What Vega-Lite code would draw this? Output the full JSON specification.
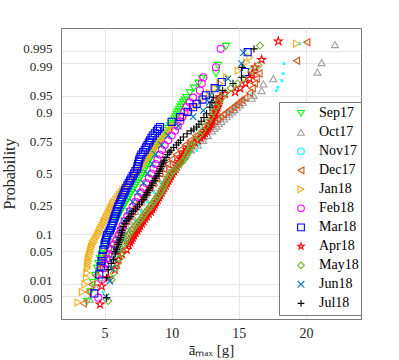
{
  "$schema": "https://vega.github.io/schema/vega-lite/v6.json",
  "width": 300,
  "height": 291,
  "autosize": {"type": "none"},
  "padding": {"left": 61, "top": 28, "right": 38, "bottom": 41},
  "background": "white",
  "config": {
    "view": {"stroke": "#7a7a7a", "strokeWidth": 1},
    "font": "Liberation Serif"
  },
  "data": {"values": [
    {"m":"Sep17","x":3.7,"z":-2.7},{"m":"Sep17","x":3.95,"z":-2.5},{"m":"Sep17","x":4.15,"z":-2.3},{"m":"Sep17","x":4.3,"z":-2.15},{"m":"Sep17","x":4.45,"z":-2.0},{"m":"Sep17","x":4.55,"z":-1.9},{"m":"Sep17","x":4.65,"z":-1.8},{"m":"Sep17","x":4.78,"z":-1.7},{"m":"Sep17","x":4.9,"z":-1.6},{"m":"Sep17","x":5.05,"z":-1.5},{"m":"Sep17","x":5.2,"z":-1.4},{"m":"Sep17","x":5.35,"z":-1.3},{"m":"Sep17","x":5.5,"z":-1.2},{"m":"Sep17","x":5.68,"z":-1.1},{"m":"Sep17","x":5.85,"z":-1.0},{"m":"Sep17","x":6.02,"z":-0.9},{"m":"Sep17","x":6.2,"z":-0.8},{"m":"Sep17","x":6.4,"z":-0.7},{"m":"Sep17","x":6.6,"z":-0.6},{"m":"Sep17","x":6.8,"z":-0.5},{"m":"Sep17","x":7.0,"z":-0.4},{"m":"Sep17","x":7.2,"z":-0.3},{"m":"Sep17","x":7.4,"z":-0.2},{"m":"Sep17","x":7.62,"z":-0.1},{"m":"Sep17","x":7.85,"z":0.0},{"m":"Sep17","x":8.02,"z":0.1},{"m":"Sep17","x":8.2,"z":0.2},{"m":"Sep17","x":8.35,"z":0.3},{"m":"Sep17","x":8.5,"z":0.4},{"m":"Sep17","x":8.7,"z":0.5},{"m":"Sep17","x":8.9,"z":0.6},{"m":"Sep17","x":9.13,"z":0.7},{"m":"Sep17","x":9.35,"z":0.8},{"m":"Sep17","x":9.58,"z":0.9},{"m":"Sep17","x":9.9,"z":1.0},{"m":"Sep17","x":10.1,"z":1.1},{"m":"Sep17","x":10.3,"z":1.2},{"m":"Sep17","x":10.45,"z":1.3},{"m":"Sep17","x":10.65,"z":1.4},{"m":"Sep17","x":10.85,"z":1.5},{"m":"Sep17","x":11.1,"z":1.6},{"m":"Sep17","x":11.35,"z":1.7},{"m":"Sep17","x":11.65,"z":1.8},{"m":"Sep17","x":12.0,"z":1.9},{"m":"Sep17","x":12.25,"z":2.0},{"m":"Sep17","x":13.3,"z":2.11},{"m":"Sep17","x":13.45,"z":2.28},{"m":"Sep17","x":14.05,"z":2.68},
    {"m":"Sep17","x":5.94,"z":-0.95},{"m":"Sep17","x":6.11,"z":-0.85},{"m":"Sep17","x":6.3,"z":-0.75},{"m":"Sep17","x":6.5,"z":-0.65},{"m":"Sep17","x":6.7,"z":-0.55},{"m":"Sep17","x":6.9,"z":-0.45},{"m":"Sep17","x":7.1,"z":-0.35},{"m":"Sep17","x":7.3,"z":-0.25},{"m":"Sep17","x":7.51,"z":-0.15},{"m":"Sep17","x":7.74,"z":-0.05},{"m":"Sep17","x":7.94,"z":0.05},{"m":"Sep17","x":8.11,"z":0.15},{"m":"Sep17","x":8.28,"z":0.25},{"m":"Sep17","x":8.43,"z":0.35},{"m":"Sep17","x":8.6,"z":0.45},{"m":"Sep17","x":8.8,"z":0.55},{"m":"Sep17","x":9.02,"z":0.65},{"m":"Sep17","x":9.24,"z":0.75},{"m":"Sep17","x":9.47,"z":0.85},{"m":"Sep17","x":9.74,"z":0.95},{"m":"Sep17","x":10.0,"z":1.05},{"m":"Sep17","x":10.2,"z":1.15},{"m":"Sep17","x":10.38,"z":1.25},{"m":"Sep17","x":10.55,"z":1.35},{"m":"Sep17","x":10.75,"z":1.45},{"m":"Sep17","x":10.98,"z":1.55},

    {"m":"Oct17","x":3.9,"z":-2.65},{"m":"Oct17","x":4.35,"z":-2.4},{"m":"Oct17","x":4.65,"z":-2.2},{"m":"Oct17","x":5.0,"z":-2.0},{"m":"Oct17","x":5.15,"z":-1.9},{"m":"Oct17","x":5.3,"z":-1.8},{"m":"Oct17","x":5.45,"z":-1.7},{"m":"Oct17","x":5.6,"z":-1.6},{"m":"Oct17","x":5.8,"z":-1.5},{"m":"Oct17","x":6.0,"z":-1.4},{"m":"Oct17","x":6.2,"z":-1.3},{"m":"Oct17","x":6.4,"z":-1.2},{"m":"Oct17","x":6.62,"z":-1.1},{"m":"Oct17","x":6.85,"z":-1.0},{"m":"Oct17","x":7.08,"z":-0.9},{"m":"Oct17","x":7.3,"z":-0.8},{"m":"Oct17","x":7.52,"z":-0.7},{"m":"Oct17","x":7.75,"z":-0.6},{"m":"Oct17","x":7.98,"z":-0.5},{"m":"Oct17","x":8.2,"z":-0.4},{"m":"Oct17","x":8.45,"z":-0.3},{"m":"Oct17","x":8.7,"z":-0.2},{"m":"Oct17","x":8.95,"z":-0.1},{"m":"Oct17","x":9.2,"z":0.0},{"m":"Oct17","x":9.55,"z":0.1},{"m":"Oct17","x":9.95,"z":0.2},{"m":"Oct17","x":10.4,"z":0.3},{"m":"Oct17","x":10.9,"z":0.4},{"m":"Oct17","x":11.45,"z":0.5},{"m":"Oct17","x":11.95,"z":0.6},{"m":"Oct17","x":12.35,"z":0.7},{"m":"Oct17","x":12.7,"z":0.8},{"m":"Oct17","x":13.0,"z":0.9},{"m":"Oct17","x":13.35,"z":1.0},{"m":"Oct17","x":13.7,"z":1.1},{"m":"Oct17","x":14.1,"z":1.2},{"m":"Oct17","x":14.5,"z":1.3},{"m":"Oct17","x":14.85,"z":1.4},{"m":"Oct17","x":15.3,"z":1.5},{"m":"Oct17","x":15.96,"z":1.59},{"m":"Oct17","x":16.1,"z":1.65},{"m":"Oct17","x":16.7,"z":1.75},{"m":"Oct17","x":16.83,"z":1.89},{"m":"Oct17","x":17.57,"z":2.0},{"m":"Oct17","x":20.85,"z":2.14},{"m":"Oct17","x":21.17,"z":2.34},{"m":"Oct17","x":22.16,"z":2.72},
    {"m":"Oct17","x":13.18,"z":0.95},{"m":"Oct17","x":13.52,"z":1.05},{"m":"Oct17","x":13.9,"z":1.15},{"m":"Oct17","x":14.3,"z":1.25},{"m":"Oct17","x":14.68,"z":1.35},{"m":"Oct17","x":15.08,"z":1.45},

    {"m":"Nov17","x":4.9,"z":-2.5},{"m":"Nov17","x":5.3,"z":-2.2},{"m":"Nov17","x":5.6,"z":-2.0},{"m":"Nov17","x":5.9,"z":-1.8},{"m":"Nov17","x":6.2,"z":-1.6},{"m":"Nov17","x":6.55,"z":-1.4},{"m":"Nov17","x":6.9,"z":-1.2},{"m":"Nov17","x":7.3,"z":-1.0},{"m":"Nov17","x":7.75,"z":-0.8},{"m":"Nov17","x":8.2,"z":-0.6},{"m":"Nov17","x":8.7,"z":-0.4},{"m":"Nov17","x":9.2,"z":-0.2},{"m":"Nov17","x":9.75,"z":0.0},{"m":"Nov17","x":10.1,"z":0.1},{"m":"Nov17","x":10.5,"z":0.2},{"m":"Nov17","x":10.85,"z":0.3},{"m":"Nov17","x":11.2,"z":0.4},{"m":"Nov17","x":11.4,"z":0.46},{"m":"Nov17","x":11.86,"z":0.49},{"m":"Nov17","x":12.0,"z":0.6},{"m":"Nov17","x":12.15,"z":0.7},{"m":"Nov17","x":12.3,"z":0.8},{"m":"Nov17","x":12.55,"z":0.9},{"m":"Nov17","x":12.8,"z":1.0},{"m":"Nov17","x":13.2,"z":1.1},{"m":"Nov17","x":13.6,"z":1.2},{"m":"Nov17","x":14.2,"z":1.3},{"m":"Nov17","x":14.6,"z":1.37},{"m":"Nov17","x":15.0,"z":1.45},{"m":"Nov17","x":15.5,"z":1.55},{"m":"Nov17","x":15.96,"z":1.68},{"m":"Nov17","x":17.8,"z":1.75},{"m":"Nov17","x":17.9,"z":1.82},{"m":"Nov17","x":18.2,"z":1.96},{"m":"Nov17","x":18.3,"z":2.11},{"m":"Nov17","x":18.37,"z":2.32},{"m":"Nov17","x":19.55,"z":2.74},

    {"m":"Dec17","x":3.42,"z":-2.74},{"m":"Dec17","x":3.8,"z":-2.5},{"m":"Dec17","x":4.05,"z":-2.34},{"m":"Dec17","x":4.35,"z":-2.15},{"m":"Dec17","x":4.6,"z":-2.0},{"m":"Dec17","x":4.78,"z":-1.9},{"m":"Dec17","x":4.95,"z":-1.8},{"m":"Dec17","x":5.12,"z":-1.7},{"m":"Dec17","x":5.3,"z":-1.6},{"m":"Dec17","x":5.52,"z":-1.5},{"m":"Dec17","x":5.75,"z":-1.4},{"m":"Dec17","x":5.97,"z":-1.3},{"m":"Dec17","x":6.2,"z":-1.2},{"m":"Dec17","x":6.42,"z":-1.1},{"m":"Dec17","x":6.65,"z":-1.0},{"m":"Dec17","x":6.88,"z":-0.9},{"m":"Dec17","x":7.1,"z":-0.8},{"m":"Dec17","x":7.35,"z":-0.7},{"m":"Dec17","x":7.6,"z":-0.6},{"m":"Dec17","x":7.85,"z":-0.5},{"m":"Dec17","x":8.1,"z":-0.4},{"m":"Dec17","x":8.35,"z":-0.3},{"m":"Dec17","x":8.6,"z":-0.2},{"m":"Dec17","x":8.85,"z":-0.1},{"m":"Dec17","x":9.1,"z":0.0},{"m":"Dec17","x":9.4,"z":0.1},{"m":"Dec17","x":9.7,"z":0.2},{"m":"Dec17","x":10.0,"z":0.3},{"m":"Dec17","x":10.35,"z":0.4},{"m":"Dec17","x":10.65,"z":0.5},{"m":"Dec17","x":11.0,"z":0.6},{"m":"Dec17","x":11.4,"z":0.7},{"m":"Dec17","x":11.8,"z":0.8},{"m":"Dec17","x":12.3,"z":0.9},{"m":"Dec17","x":12.7,"z":1.0},{"m":"Dec17","x":13.2,"z":1.1},{"m":"Dec17","x":13.6,"z":1.2},{"m":"Dec17","x":14.1,"z":1.3},{"m":"Dec17","x":14.57,"z":1.4},{"m":"Dec17","x":15.0,"z":1.5},{"m":"Dec17","x":15.45,"z":1.6},{"m":"Dec17","x":15.8,"z":1.7},{"m":"Dec17","x":16.0,"z":1.8},{"m":"Dec17","x":16.15,"z":1.9},{"m":"Dec17","x":16.3,"z":2.0},{"m":"Dec17","x":16.5,"z":2.11},{"m":"Dec17","x":19.3,"z":2.38},{"m":"Dec17","x":20.06,"z":2.77},
    {"m":"Dec17","x":12.5,"z":0.95},{"m":"Dec17","x":12.95,"z":1.05},{"m":"Dec17","x":13.4,"z":1.15},{"m":"Dec17","x":13.85,"z":1.25},{"m":"Dec17","x":14.33,"z":1.35},{"m":"Dec17","x":14.8,"z":1.45},{"m":"Dec17","x":15.22,"z":1.55},

    {"m":"Jan18","x":3.03,"z":-2.72},{"m":"Jan18","x":3.35,"z":-2.5},{"m":"Jan18","x":3.55,"z":-2.34},{"m":"Jan18","x":3.65,"z":-2.2},{"m":"Jan18","x":3.7,"z":-2.1},{"m":"Jan18","x":3.72,"z":-2.0},{"m":"Jan18","x":3.76,"z":-1.9},{"m":"Jan18","x":3.8,"z":-1.8},{"m":"Jan18","x":3.9,"z":-1.7},{"m":"Jan18","x":3.98,"z":-1.6},{"m":"Jan18","x":4.1,"z":-1.5},{"m":"Jan18","x":4.3,"z":-1.4},{"m":"Jan18","x":4.5,"z":-1.3},{"m":"Jan18","x":4.65,"z":-1.2},{"m":"Jan18","x":4.82,"z":-1.1},{"m":"Jan18","x":5.0,"z":-1.0},{"m":"Jan18","x":5.18,"z":-0.9},{"m":"Jan18","x":5.36,"z":-0.8},{"m":"Jan18","x":5.52,"z":-0.7},{"m":"Jan18","x":5.72,"z":-0.6},{"m":"Jan18","x":6.0,"z":-0.5},{"m":"Jan18","x":6.25,"z":-0.4},{"m":"Jan18","x":6.5,"z":-0.3},{"m":"Jan18","x":6.8,"z":-0.2},{"m":"Jan18","x":7.1,"z":-0.1},{"m":"Jan18","x":7.4,"z":0.0},{"m":"Jan18","x":7.65,"z":0.1},{"m":"Jan18","x":7.9,"z":0.2},{"m":"Jan18","x":8.15,"z":0.3},{"m":"Jan18","x":8.4,"z":0.4},{"m":"Jan18","x":8.65,"z":0.5},{"m":"Jan18","x":8.9,"z":0.6},{"m":"Jan18","x":9.2,"z":0.7},{"m":"Jan18","x":9.5,"z":0.8},{"m":"Jan18","x":9.8,"z":0.9},{"m":"Jan18","x":10.15,"z":1.0},{"m":"Jan18","x":10.5,"z":1.1},{"m":"Jan18","x":10.9,"z":1.2},{"m":"Jan18","x":11.3,"z":1.3},{"m":"Jan18","x":11.65,"z":1.4},{"m":"Jan18","x":12.0,"z":1.5},{"m":"Jan18","x":12.4,"z":1.6},{"m":"Jan18","x":12.8,"z":1.7},{"m":"Jan18","x":13.25,"z":1.8},{"m":"Jan18","x":13.6,"z":1.9},{"m":"Jan18","x":14.1,"z":2.03},{"m":"Jan18","x":14.96,"z":2.17},{"m":"Jan18","x":15.6,"z":2.35},{"m":"Jan18","x":15.83,"z":2.45},{"m":"Jan18","x":19.3,"z":2.74},
    {"m":"Jan18","x":3.74,"z":-1.95},{"m":"Jan18","x":3.78,"z":-1.85},{"m":"Jan18","x":3.85,"z":-1.75},{"m":"Jan18","x":3.94,"z":-1.65},{"m":"Jan18","x":4.04,"z":-1.55},{"m":"Jan18","x":4.2,"z":-1.45},{"m":"Jan18","x":4.4,"z":-1.35},{"m":"Jan18","x":4.58,"z":-1.25},{"m":"Jan18","x":4.74,"z":-1.15},{"m":"Jan18","x":4.91,"z":-1.05},{"m":"Jan18","x":5.09,"z":-0.95},{"m":"Jan18","x":5.27,"z":-0.85},{"m":"Jan18","x":5.44,"z":-0.75},{"m":"Jan18","x":5.62,"z":-0.65},{"m":"Jan18","x":5.86,"z":-0.55},{"m":"Jan18","x":6.12,"z":-0.45},{"m":"Jan18","x":6.38,"z":-0.35},{"m":"Jan18","x":6.65,"z":-0.25},{"m":"Jan18","x":6.95,"z":-0.15},{"m":"Jan18","x":7.25,"z":-0.05},{"m":"Jan18","x":7.52,"z":0.05},{"m":"Jan18","x":7.78,"z":0.15},{"m":"Jan18","x":8.02,"z":0.25},{"m":"Jan18","x":8.28,"z":0.35},{"m":"Jan18","x":8.52,"z":0.45},{"m":"Jan18","x":8.78,"z":0.55},{"m":"Jan18","x":9.05,"z":0.65},{"m":"Jan18","x":9.35,"z":0.75},{"m":"Jan18","x":9.65,"z":0.85},{"m":"Jan18","x":9.98,"z":0.95},

    {"m":"Feb18","x":4.54,"z":-2.62},{"m":"Feb18","x":4.79,"z":-2.24},{"m":"Feb18","x":4.95,"z":-2.0},{"m":"Feb18","x":5.05,"z":-1.9},{"m":"Feb18","x":5.15,"z":-1.8},{"m":"Feb18","x":5.3,"z":-1.7},{"m":"Feb18","x":5.5,"z":-1.6},{"m":"Feb18","x":5.7,"z":-1.5},{"m":"Feb18","x":5.9,"z":-1.4},{"m":"Feb18","x":6.05,"z":-1.3},{"m":"Feb18","x":6.2,"z":-1.2},{"m":"Feb18","x":6.35,"z":-1.1},{"m":"Feb18","x":6.5,"z":-1.0},{"m":"Feb18","x":6.7,"z":-0.9},{"m":"Feb18","x":6.9,"z":-0.8},{"m":"Feb18","x":7.1,"z":-0.7},{"m":"Feb18","x":7.3,"z":-0.6},{"m":"Feb18","x":7.5,"z":-0.5},{"m":"Feb18","x":7.7,"z":-0.4},{"m":"Feb18","x":7.9,"z":-0.3},{"m":"Feb18","x":8.1,"z":-0.2},{"m":"Feb18","x":8.3,"z":-0.1},{"m":"Feb18","x":8.5,"z":0.0},{"m":"Feb18","x":8.65,"z":0.1},{"m":"Feb18","x":8.8,"z":0.2},{"m":"Feb18","x":8.95,"z":0.3},{"m":"Feb18","x":9.1,"z":0.4},{"m":"Feb18","x":9.28,"z":0.5},{"m":"Feb18","x":9.48,"z":0.6},{"m":"Feb18","x":9.75,"z":0.7},{"m":"Feb18","x":10.0,"z":0.8},{"m":"Feb18","x":10.25,"z":0.9},{"m":"Feb18","x":10.45,"z":1.0},{"m":"Feb18","x":10.65,"z":1.1},{"m":"Feb18","x":10.8,"z":1.2},{"m":"Feb18","x":10.95,"z":1.3},{"m":"Feb18","x":11.1,"z":1.4},{"m":"Feb18","x":11.35,"z":1.5},{"m":"Feb18","x":11.6,"z":1.6},{"m":"Feb18","x":12.1,"z":1.75},{"m":"Feb18","x":12.24,"z":1.9},{"m":"Feb18","x":12.36,"z":2.03},{"m":"Feb18","x":13.3,"z":2.24},{"m":"Feb18","x":13.65,"z":2.63},

    {"m":"Mar18","x":4.24,"z":-2.53},{"m":"Mar18","x":4.61,"z":-2.13},{"m":"Mar18","x":4.72,"z":-1.96},{"m":"Mar18","x":4.78,"z":-1.85},{"m":"Mar18","x":4.84,"z":-1.75},{"m":"Mar18","x":4.91,"z":-1.61},{"m":"Mar18","x":5.0,"z":-1.5},{"m":"Mar18","x":5.1,"z":-1.4},{"m":"Mar18","x":5.2,"z":-1.3},{"m":"Mar18","x":5.4,"z":-1.2},{"m":"Mar18","x":5.53,"z":-1.1},{"m":"Mar18","x":5.66,"z":-1.0},{"m":"Mar18","x":5.78,"z":-0.9},{"m":"Mar18","x":5.9,"z":-0.8},{"m":"Mar18","x":6.02,"z":-0.7},{"m":"Mar18","x":6.18,"z":-0.6},{"m":"Mar18","x":6.32,"z":-0.5},{"m":"Mar18","x":6.48,"z":-0.4},{"m":"Mar18","x":6.63,"z":-0.3},{"m":"Mar18","x":6.8,"z":-0.2},{"m":"Mar18","x":7.0,"z":-0.1},{"m":"Mar18","x":7.2,"z":0.0},{"m":"Mar18","x":7.42,"z":0.1},{"m":"Mar18","x":7.5,"z":0.2},{"m":"Mar18","x":7.6,"z":0.3},{"m":"Mar18","x":7.75,"z":0.4},{"m":"Mar18","x":8.0,"z":0.5},{"m":"Mar18","x":8.2,"z":0.6},{"m":"Mar18","x":8.39,"z":0.7},{"m":"Mar18","x":8.6,"z":0.8},{"m":"Mar18","x":8.9,"z":0.9},{"m":"Mar18","x":9.13,"z":0.98},{"m":"Mar18","x":10.0,"z":1.09},{"m":"Mar18","x":10.62,"z":1.19},{"m":"Mar18","x":11.2,"z":1.3},{"m":"Mar18","x":11.6,"z":1.4},{"m":"Mar18","x":11.86,"z":1.47},{"m":"Mar18","x":12.3,"z":1.56},{"m":"Mar18","x":12.55,"z":1.65},{"m":"Mar18","x":13.2,"z":1.8},{"m":"Mar18","x":13.73,"z":1.93},{"m":"Mar18","x":15.46,"z":2.14},{"m":"Mar18","x":15.66,"z":2.56},
    {"m":"Mar18","x":5.05,"z":-1.45},{"m":"Mar18","x":5.15,"z":-1.35},{"m":"Mar18","x":5.3,"z":-1.25},{"m":"Mar18","x":5.47,"z":-1.15},{"m":"Mar18","x":5.6,"z":-1.05},{"m":"Mar18","x":5.72,"z":-0.95},{"m":"Mar18","x":5.84,"z":-0.85},{"m":"Mar18","x":5.96,"z":-0.75},{"m":"Mar18","x":6.1,"z":-0.65},{"m":"Mar18","x":6.25,"z":-0.55},{"m":"Mar18","x":6.4,"z":-0.45},{"m":"Mar18","x":6.55,"z":-0.35},{"m":"Mar18","x":6.72,"z":-0.25},{"m":"Mar18","x":6.9,"z":-0.15},{"m":"Mar18","x":7.1,"z":-0.05},{"m":"Mar18","x":7.3,"z":0.05},{"m":"Mar18","x":7.46,"z":0.15},{"m":"Mar18","x":7.55,"z":0.25},{"m":"Mar18","x":7.68,"z":0.35},{"m":"Mar18","x":7.88,"z":0.45},{"m":"Mar18","x":8.1,"z":0.55},{"m":"Mar18","x":8.3,"z":0.65},{"m":"Mar18","x":8.5,"z":0.75},{"m":"Mar18","x":8.75,"z":0.85},{"m":"Mar18","x":9.0,"z":0.94},

    {"m":"Apr18","x":4.67,"z":-2.76},{"m":"Apr18","x":4.79,"z":-2.38},{"m":"Apr18","x":5.28,"z":-2.2},{"m":"Apr18","x":5.78,"z":-2.03},{"m":"Apr18","x":5.9,"z":-1.9},{"m":"Apr18","x":6.03,"z":-1.82},{"m":"Apr18","x":6.3,"z":-1.7},{"m":"Apr18","x":6.65,"z":-1.61},{"m":"Apr18","x":6.8,"z":-1.5},{"m":"Apr18","x":7.0,"z":-1.4},{"m":"Apr18","x":7.2,"z":-1.3},{"m":"Apr18","x":7.45,"z":-1.2},{"m":"Apr18","x":7.65,"z":-1.1},{"m":"Apr18","x":7.9,"z":-1.0},{"m":"Apr18","x":8.15,"z":-0.9},{"m":"Apr18","x":8.45,"z":-0.8},{"m":"Apr18","x":8.65,"z":-0.7},{"m":"Apr18","x":8.85,"z":-0.6},{"m":"Apr18","x":9.05,"z":-0.5},{"m":"Apr18","x":9.25,"z":-0.4},{"m":"Apr18","x":9.45,"z":-0.3},{"m":"Apr18","x":9.65,"z":-0.2},{"m":"Apr18","x":9.85,"z":-0.1},{"m":"Apr18","x":10.05,"z":0.0},{"m":"Apr18","x":10.3,"z":0.1},{"m":"Apr18","x":10.5,"z":0.2},{"m":"Apr18","x":10.7,"z":0.3},{"m":"Apr18","x":10.9,"z":0.4},{"m":"Apr18","x":11.15,"z":0.5},{"m":"Apr18","x":11.5,"z":0.6},{"m":"Apr18","x":11.95,"z":0.7},{"m":"Apr18","x":12.35,"z":0.8},{"m":"Apr18","x":12.6,"z":0.9},{"m":"Apr18","x":12.8,"z":1.0},{"m":"Apr18","x":12.95,"z":1.1},{"m":"Apr18","x":13.1,"z":1.2},{"m":"Apr18","x":13.25,"z":1.3},{"m":"Apr18","x":13.4,"z":1.4},{"m":"Apr18","x":13.5,"z":1.5},{"m":"Apr18","x":13.6,"z":1.61},{"m":"Apr18","x":13.97,"z":1.68},{"m":"Apr18","x":14.72,"z":1.72},{"m":"Apr18","x":15.1,"z":1.8},{"m":"Apr18","x":15.5,"z":1.9},{"m":"Apr18","x":15.8,"z":2.0},{"m":"Apr18","x":16.0,"z":2.11},{"m":"Apr18","x":16.2,"z":2.24},{"m":"Apr18","x":16.7,"z":2.4},{"m":"Apr18","x":17.94,"z":2.79},
    {"m":"Apr18","x":6.9,"z":-1.45},{"m":"Apr18","x":7.1,"z":-1.35},{"m":"Apr18","x":7.32,"z":-1.25},{"m":"Apr18","x":7.55,"z":-1.15},{"m":"Apr18","x":7.78,"z":-1.05},{"m":"Apr18","x":8.02,"z":-0.95},{"m":"Apr18","x":8.3,"z":-0.85},{"m":"Apr18","x":8.55,"z":-0.75},{"m":"Apr18","x":8.75,"z":-0.65},{"m":"Apr18","x":8.95,"z":-0.55},{"m":"Apr18","x":9.15,"z":-0.45},{"m":"Apr18","x":9.35,"z":-0.35},{"m":"Apr18","x":9.55,"z":-0.25},{"m":"Apr18","x":9.75,"z":-0.15},{"m":"Apr18","x":9.95,"z":-0.05},{"m":"Apr18","x":10.18,"z":0.05},{"m":"Apr18","x":10.4,"z":0.15},{"m":"Apr18","x":10.6,"z":0.25},{"m":"Apr18","x":10.8,"z":0.35},{"m":"Apr18","x":11.02,"z":0.45},{"m":"Apr18","x":11.32,"z":0.55},{"m":"Apr18","x":11.72,"z":0.65},{"m":"Apr18","x":12.15,"z":0.75},{"m":"Apr18","x":12.48,"z":0.85},{"m":"Apr18","x":12.7,"z":0.95},{"m":"Apr18","x":12.88,"z":1.05},{"m":"Apr18","x":13.02,"z":1.15},{"m":"Apr18","x":13.18,"z":1.25},{"m":"Apr18","x":13.32,"z":1.35},{"m":"Apr18","x":13.45,"z":1.45},{"m":"Apr18","x":13.55,"z":1.55},

    {"m":"May18","x":5.28,"z":-2.69},{"m":"May18","x":5.54,"z":-2.24},{"m":"May18","x":5.68,"z":-2.1},{"m":"May18","x":5.8,"z":-2.0},{"m":"May18","x":5.95,"z":-1.9},{"m":"May18","x":6.1,"z":-1.8},{"m":"May18","x":6.2,"z":-1.7},{"m":"May18","x":6.3,"z":-1.6},{"m":"May18","x":6.42,"z":-1.5},{"m":"May18","x":6.6,"z":-1.4},{"m":"May18","x":6.8,"z":-1.3},{"m":"May18","x":7.02,"z":-1.2},{"m":"May18","x":7.3,"z":-1.1},{"m":"May18","x":7.6,"z":-1.0},{"m":"May18","x":7.87,"z":-0.9},{"m":"May18","x":8.1,"z":-0.8},{"m":"May18","x":8.39,"z":-0.7},{"m":"May18","x":8.65,"z":-0.6},{"m":"May18","x":8.92,"z":-0.5},{"m":"May18","x":9.17,"z":-0.4},{"m":"May18","x":9.38,"z":-0.3},{"m":"May18","x":9.52,"z":-0.2},{"m":"May18","x":9.72,"z":-0.1},{"m":"May18","x":9.95,"z":0.0},{"m":"May18","x":10.3,"z":0.1},{"m":"May18","x":10.6,"z":0.2},{"m":"May18","x":10.95,"z":0.3},{"m":"May18","x":11.15,"z":0.4},{"m":"May18","x":11.3,"z":0.5},{"m":"May18","x":11.45,"z":0.6},{"m":"May18","x":11.75,"z":0.7},{"m":"May18","x":12.05,"z":0.8},{"m":"May18","x":12.3,"z":0.9},{"m":"May18","x":12.5,"z":1.0},{"m":"May18","x":12.7,"z":1.1},{"m":"May18","x":12.9,"z":1.2},{"m":"May18","x":13.1,"z":1.3},{"m":"May18","x":13.3,"z":1.4},{"m":"May18","x":13.5,"z":1.5},{"m":"May18","x":13.75,"z":1.6},{"m":"May18","x":14.0,"z":1.7},{"m":"May18","x":14.4,"z":1.8},{"m":"May18","x":14.9,"z":1.9},{"m":"May18","x":15.4,"z":2.0},{"m":"May18","x":15.96,"z":2.17},{"m":"May18","x":16.45,"z":2.28},{"m":"May18","x":16.58,"z":2.7},
    {"m":"May18","x":6.5,"z":-1.45},{"m":"May18","x":6.7,"z":-1.35},{"m":"May18","x":6.9,"z":-1.25},{"m":"May18","x":7.15,"z":-1.15},{"m":"May18","x":7.45,"z":-1.05},{"m":"May18","x":7.74,"z":-0.95},{"m":"May18","x":7.98,"z":-0.85},{"m":"May18","x":8.25,"z":-0.75},{"m":"May18","x":8.52,"z":-0.65},{"m":"May18","x":8.78,"z":-0.55},{"m":"May18","x":9.05,"z":-0.45},{"m":"May18","x":9.28,"z":-0.35},{"m":"May18","x":9.45,"z":-0.25},{"m":"May18","x":9.62,"z":-0.15},{"m":"May18","x":9.83,"z":-0.05},{"m":"May18","x":10.12,"z":0.05},{"m":"May18","x":10.45,"z":0.15},{"m":"May18","x":10.78,"z":0.25},{"m":"May18","x":11.05,"z":0.35},{"m":"May18","x":11.22,"z":0.45},{"m":"May18","x":11.38,"z":0.55},

    {"m":"Jun18","x":5.1,"z":-2.6},{"m":"Jun18","x":5.4,"z":-2.27},{"m":"Jun18","x":5.5,"z":-2.0},{"m":"Jun18","x":5.62,"z":-1.8},{"m":"Jun18","x":5.78,"z":-1.6},{"m":"Jun18","x":6.0,"z":-1.4},{"m":"Jun18","x":6.2,"z":-1.2},{"m":"Jun18","x":6.45,"z":-1.0},{"m":"Jun18","x":6.8,"z":-0.8},{"m":"Jun18","x":7.1,"z":-0.6},{"m":"Jun18","x":7.45,"z":-0.4},{"m":"Jun18","x":7.9,"z":-0.2},{"m":"Jun18","x":8.2,"z":0.0},{"m":"Jun18","x":8.55,"z":0.2},{"m":"Jun18","x":8.8,"z":0.4},{"m":"Jun18","x":9.25,"z":0.6},{"m":"Jun18","x":9.75,"z":0.8},{"m":"Jun18","x":10.5,"z":1.0},{"m":"Jun18","x":11.6,"z":1.2},{"m":"Jun18","x":12.36,"z":1.33},{"m":"Jun18","x":12.8,"z":1.5},{"m":"Jun18","x":12.85,"z":1.65},{"m":"Jun18","x":13.5,"z":1.8},{"m":"Jun18","x":14.2,"z":2.0},{"m":"Jun18","x":15.2,"z":2.32},{"m":"Jun18","x":15.35,"z":2.55},

    {"m":"Jul18","x":5.16,"z":-2.62},{"m":"Jul18","x":5.16,"z":-2.2},{"m":"Jul18","x":5.28,"z":-2.03},{"m":"Jul18","x":5.5,"z":-1.9},{"m":"Jul18","x":5.66,"z":-1.82},{"m":"Jul18","x":5.78,"z":-1.7},{"m":"Jul18","x":5.9,"z":-1.6},{"m":"Jul18","x":6.02,"z":-1.5},{"m":"Jul18","x":6.15,"z":-1.4},{"m":"Jul18","x":6.25,"z":-1.3},{"m":"Jul18","x":6.33,"z":-1.2},{"m":"Jul18","x":6.4,"z":-1.12},{"m":"Jul18","x":6.65,"z":-1.0},{"m":"Jul18","x":6.9,"z":-0.91},{"m":"Jul18","x":7.15,"z":-0.8},{"m":"Jul18","x":7.45,"z":-0.7},{"m":"Jul18","x":7.75,"z":-0.6},{"m":"Jul18","x":8.0,"z":-0.5},{"m":"Jul18","x":8.2,"z":-0.4},{"m":"Jul18","x":8.4,"z":-0.3},{"m":"Jul18","x":8.6,"z":-0.2},{"m":"Jul18","x":8.8,"z":-0.1},{"m":"Jul18","x":9.0,"z":0.0},{"m":"Jul18","x":9.15,"z":0.1},{"m":"Jul18","x":9.3,"z":0.2},{"m":"Jul18","x":9.45,"z":0.28},{"m":"Jul18","x":9.7,"z":0.4},{"m":"Jul18","x":9.95,"z":0.49},{"m":"Jul18","x":10.35,"z":0.6},{"m":"Jul18","x":10.65,"z":0.7},{"m":"Jul18","x":10.87,"z":0.77},{"m":"Jul18","x":11.45,"z":0.9},{"m":"Jul18","x":11.86,"z":0.98},{"m":"Jul18","x":12.2,"z":1.1},{"m":"Jul18","x":12.6,"z":1.26},{"m":"Jul18","x":12.85,"z":1.4},{"m":"Jul18","x":13.0,"z":1.5},{"m":"Jul18","x":13.1,"z":1.61},{"m":"Jul18","x":13.8,"z":1.75},{"m":"Jul18","x":14.57,"z":1.9},{"m":"Jul18","x":15.2,"z":2.03},{"m":"Jul18","x":15.25,"z":2.24},{"m":"Jul18","x":16.13,"z":2.63},
    {"m":"Jul18","x":5.84,"z":-1.65},{"m":"Jul18","x":5.96,"z":-1.55},{"m":"Jul18","x":6.08,"z":-1.45},{"m":"Jul18","x":6.2,"z":-1.35},{"m":"Jul18","x":6.29,"z":-1.25},{"m":"Jul18","x":6.52,"z":-1.06},{"m":"Jul18","x":6.78,"z":-0.95},{"m":"Jul18","x":7.02,"z":-0.85},{"m":"Jul18","x":7.3,"z":-0.75},{"m":"Jul18","x":7.6,"z":-0.65},{"m":"Jul18","x":7.88,"z":-0.55},{"m":"Jul18","x":8.1,"z":-0.45},{"m":"Jul18","x":8.3,"z":-0.35},{"m":"Jul18","x":8.5,"z":-0.25},{"m":"Jul18","x":8.7,"z":-0.15},{"m":"Jul18","x":8.9,"z":-0.05},{"m":"Jul18","x":9.08,"z":0.05},{"m":"Jul18","x":9.22,"z":0.15},{"m":"Jul18","x":9.38,"z":0.24},{"m":"Jul18","x":9.58,"z":0.34},{"m":"Jul18","x":9.82,"z":0.45},{"m":"Jul18","x":10.15,"z":0.55},{"m":"Jul18","x":10.5,"z":0.65},{"m":"Jul18","x":11.15,"z":0.84},{"m":"Jul18","x":11.65,"z":0.94},{"m":"Jul18","x":12.03,"z":1.04},{"m":"Jul18","x":12.4,"z":1.18}
  ]},
  "resolve": {"axis": {"y": "independent"}},
  "layer": [
    {
      "mark": {"type": "point", "filled": false, "strokeWidth": 1.1, "opacity": 1},
      "encoding": {
        "x": {
          "field": "x", "type": "quantitative",
          "scale": {"domain": [1.76, 24.1], "nice": false, "zero": false},
          "axis": {
            "values": [5, 10, 15, 20],
            "grid": true, "gridColor": "#e6e6e6",
            "domainColor": "#7a7a7a", "ticks": false,
            "labelFont": "Liberation Serif", "labelFontSize": 14, "labelColor": "#262626", "labelPadding": 7,
            "title": "āₘₐₓ  [g]", "titleFont": "Liberation Serif", "titleFontSize": 15, "titleFontWeight": "normal", "titleColor": "#262626",
            "titleX": 150, "titleY": 35, "titleBaseline": "alphabetic", "titleAlign": "center"
          }
        },
        "y": {
          "field": "z", "type": "quantitative",
          "scale": {"domain": [-3.07, 3.07], "nice": false, "zero": false},
          "axis": {
            "orient": "left", "offset": 0,
            "values": [-1.6449, -1.2816, -0.6745, 0, 0.6745, 1.2816, 1.6449],
            "labelExpr": "datum.value < -1.5 ? '0.05' : datum.value < -1 ? '0.1' : datum.value < -0.3 ? '0.25' : datum.value < 0.3 ? '0.5' : datum.value < 1 ? '0.75' : datum.value < 1.5 ? '0.9' : '0.95'",
            "labelOverlap": false,
            "grid": true, "gridColor": "#e6e6e6",
            "domainColor": "#7a7a7a", "ticks": false,
            "labelFont": "Liberation Serif", "labelFontSize": 13, "labelColor": "#262626", "labelPadding": 9,
            "title": "Probability", "titleFont": "Liberation Serif", "titleFontSize": 16, "titleFontWeight": "normal", "titleColor": "#262626",
            "titleX": -47, "titleY": 145.5, "titleBaseline": "alphabetic", "titleAlign": "center", "titleAngle": -90
          }
        },
        "color": {
          "field": "m", "type": "nominal",
          "scale": {
            "domain": ["Sep17","Oct17","Nov17","Dec17","Jan18","Feb18","Mar18","Apr18","May18","Jun18","Jul18"],
            "range": ["#00FF00","#A0A0A0","#00FFFF","#D95319","#EDB120","#FF00FF","#0000FF","#FF0000","#77AC30","#0072BD","#000000"]
          },
          "legend": {
            "title": null, "orient": "none", "legendX": 218, "legendY": 74,
            "padding": 2, "clipHeight": 18.7, "rowPadding": 0,
            "symbolOffset": 13, "labelOffset": 11,
            "labelFont": "Liberation Serif", "labelFontSize": 14, "labelColor": "#000000",
            "strokeColor": "#7a7a7a", "fillColor": "white",
            "symbolStrokeWidth": 1.1, "symbolSize": 45,
            "encode": {
              "labels": {"update": {"fontStyle": {"signal": "indexof(['Sep17','Oct17','Nov17','Dec17','Jan18','Feb18'], datum.label) >= 0 ? 'italic' : 'normal'"}}},
              "symbols": {"update": {"size": {"signal": "datum.value === 'Nov17' ? 4 : 45"}}}
            }
          }
        },
        "shape": {
          "field": "m", "type": "nominal",
          "scale": {
            "domain": ["Sep17","Oct17","Nov17","Dec17","Jan18","Feb18","Mar18","Apr18","May18","Jun18","Jul18"],
            "range": ["triangle-down","triangle-up","circle","triangle-left","triangle-right","circle","square","M0,-1L0.2245,-0.309L0.951,-0.309L0.363,0.118L0.588,0.809L0,0.382L-0.588,0.809L-0.363,0.118L-0.951,-0.309L-0.2245,-0.309Z","diamond","M-1,-1L1,1M-1,1L1,-1","M-1,0L1,0M0,-1L0,1"]
          }
        },
        "size": {
          "condition": [
            {"test": "datum.m === 'Nov17'", "value": 4},
            {"test": "datum.m === 'Apr18'", "value": 70},
            {"test": "datum.m === 'Jul18'", "value": 55},
            {"test": "datum.m === 'Jun18'", "value": 40}
          ],
          "value": 50
        }
      }
    },
    {
      "transform": [{"filter": "false"}],
      "mark": {"type": "point"},
      "encoding": {
        "y": {
          "field": "z", "type": "quantitative",
          "axis": {
            "orient": "left", "offset": 0,
            "values": [2.5758, -2.3263],
            "labelExpr": "datum.value > 0 ? '0.995' : '0.01'",
            "labelOverlap": false, "labelOffset": -3,
            "grid": true, "gridColor": "#e6e6e6",
            "domain": false, "ticks": false,
            "labelFont": "Liberation Serif", "labelFontSize": 13, "labelColor": "#262626", "labelPadding": 9,
            "title": null
          }
        }
      }
    },
    {
      "transform": [{"filter": "false"}],
      "mark": {"type": "point"},
      "encoding": {
        "y": {
          "field": "z", "type": "quantitative",
          "axis": {
            "orient": "left", "offset": 0,
            "values": [2.3263, -2.5758],
            "labelExpr": "datum.value > 0 ? '0.99' : '0.005'",
            "labelOverlap": false, "labelOffset": 3,
            "grid": true, "gridColor": "#e6e6e6",
            "domain": false, "ticks": false,
            "labelFont": "Liberation Serif", "labelFontSize": 13, "labelColor": "#262626", "labelPadding": 9,
            "title": null
          }
        }
      }
    }
  ]
}
